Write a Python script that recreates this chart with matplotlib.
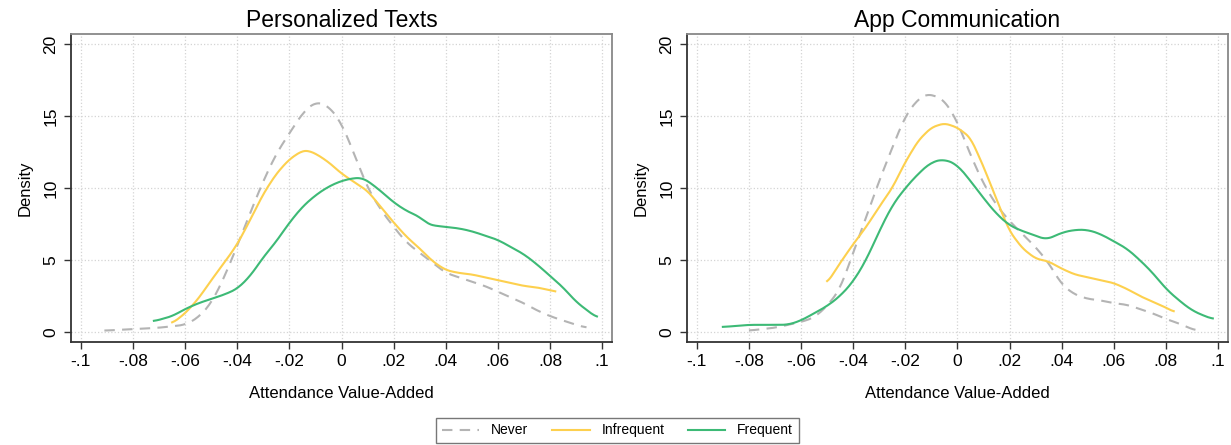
import numpy as np
import matplotlib.pyplot as plt

plt.rcParams['font.family'] = ['Liberation Sans', 'DejaVu Sans']

# kernel density curves, read as (x, density) pairs
# Personalized Texts
pt_never_x = [-.091, -.08, -.07, -.06, -.055, -.05, -.045, -.04, -.035, -.03, -.025, -.02, -.015, -.01,
              -.005, 0, .005, .01, .015, .02, .025, .03, .035, .04, .045, .05, .055, .06, .065, .07,
              .075, .08, .085, .09, .094]
pt_never_y = [0.1, 0.2, 0.3, 0.5, 1.0, 2.0, 3.8, 6.0, 8.3, 10.5, 12.4, 13.8, 15.2, 16.0,
              15.7, 14.5, 12.3, 10.0, 8.5, 7.3, 6.2, 5.5, 4.8, 4.1, 3.8, 3.5, 3.2, 2.8, 2.4, 2.0,
              1.5, 1.1, 0.8, 0.5, 0.3]
pt_infreq_x = [-.065, -.06, -.055, -.05, -.045, -.04, -.035, -.03, -.025, -.02, -.015, -.013, -.01, -.005,
               0, .005, .01, .015, .02, .025, .03, .035, .04, .045, .05, .055, .06, .065, .07, .075,
               .08, .082]
pt_infreq_y = [0.6, 1.3, 2.3, 3.6, 4.8, 6.1, 7.8, 9.6, 11.0, 12.0, 12.6, 12.6, 12.4, 11.8,
               11.0, 10.4, 9.8, 8.7, 7.6, 6.6, 5.8, 4.9, 4.3, 4.1, 4.0, 3.8, 3.6, 3.4, 3.2, 3.1,
               2.9, 2.8]
pt_freq_x = [-.072, -.065, -.06, -.055, -.05, -.045, -.04, -.035, -.03, -.025, -.02, -.015, -.01, -.005,
             0, .005, .008, .01, .015, .02, .025, .03, .033, .035, .04, .045, .05, .055, .06, .065,
             .07, .075, .08, .085, .09, .095, .098]
pt_freq_y = [0.75, 1.1, 1.6, 2.0, 2.3, 2.6, 3.0, 3.9, 5.2, 6.3, 7.6, 8.7, 9.5, 10.1,
             10.5, 10.7, 10.7, 10.5, 9.8, 9.0, 8.4, 8.0, 7.5, 7.4, 7.3, 7.2, 7.0, 6.7, 6.4, 5.9,
             5.4, 4.7, 3.9, 3.1, 2.1, 1.4, 1.0]

# App Communication
ac_never_x = [-.08, -.07, -.06, -.055, -.05, -.045, -.04, -.035, -.03, -.025, -.02, -.015, -.012, -.01,
              -.005, 0, .005, .01, .015, .02, .025, .03, .035, .04, .045, .05, .055, .06, .065, .07,
              .075, .08, .085, .09, .092]
ac_never_y = [0.1, 0.3, 0.7, 1.0, 1.8, 3.0, 5.5, 8.0, 10.5, 12.8, 15.0, 16.2, 16.5, 16.5,
              16.1, 14.6, 12.3, 10.3, 8.8, 7.7, 6.8, 5.9, 4.8, 3.3, 2.6, 2.3, 2.2, 2.0, 1.9, 1.6,
              1.3, 0.9, 0.6, 0.2, 0.1]
ac_infreq_x = [-.05, -.045, -.04, -.035, -.03, -.025, -.02, -.015, -.01, -.005, 0, .005, .01, .015,
               .02, .025, .03, .035, .04, .045, .05, .055, .06, .065, .07, .075, .08, .083]
ac_infreq_y = [3.4, 4.8, 6.1, 7.3, 8.7, 10.0, 11.8, 13.3, 14.2, 14.5, 14.2, 13.5, 11.5, 9.2,
               7.0, 5.8, 5.1, 4.9, 4.4, 4.0, 3.8, 3.6, 3.4, 3.0, 2.5, 2.1, 1.7, 1.4]
ac_freq_x = [-.09, -.08, -.07, -.065, -.06, -.055, -.05, -.045, -.04, -.035, -.03, -.025, -.02, -.015,
             -.01, -.005, 0, .005, .01, .015, .02, .025, .03, .034, .04, .045, .05, .055, .06, .065,
             .07, .075, .08, .085, .09, .095, .098]
ac_freq_y = [0.35, 0.5, 0.5, 0.5, 0.8, 1.3, 1.8, 2.5, 3.5, 5.0, 7.0, 8.8, 10.0, 11.0,
             11.8, 12.0, 11.6, 10.5, 9.3, 8.2, 7.4, 7.0, 6.7, 6.4, 6.9, 7.1, 7.1, 6.8, 6.3, 5.8,
             5.0, 4.1, 3.0, 2.2, 1.5, 1.1, 0.9]

titles = ['Personalized Texts', 'App Communication']
groups = ['Never', 'Infrequent', 'Frequent']
colors = ['#b4b4b4', '#fdd04e', '#3dba76']
xticks = [-.1, -.08, -.06, -.04, -.02, 0, .02, .04, .06, .08, .1]
xticklabels = ['-.1', '-.08', '-.06', '-.04', '-.02', '0', '.02', '.04', '.06', '.08', '.1']
yticks = [0, 5, 10, 15, 20]

panels = [
    [(pt_never_x, pt_never_y), (pt_infreq_x, pt_infreq_y), (pt_freq_x, pt_freq_y)],
    [(ac_never_x, ac_never_y), (ac_infreq_x, ac_infreq_y), (ac_freq_x, ac_freq_y)],
]


def smooth(x, y):
    xs = np.linspace(x[0], x[-1], 300)
    ys = np.interp(xs, x, y)
    k = np.ones(9) / 9
    yp = np.concatenate([np.full(4, ys[0]), ys, np.full(4, ys[-1])])
    return xs, np.convolve(yp, k, mode='valid')


fig = plt.figure(figsize=(12.31, 4.45), dpi=100)
lefts = [0.0577, 0.558]
handles = []
for i in range(2):
    ax = fig.add_axes([lefts[i], 0.2315, 0.4395, 0.692])
    for j, (x, y) in enumerate(panels[i]):
        xs, ys = smooth(x, y)
        if j == 0:
            h, = ax.plot(xs, ys, color=colors[j], lw=1.5, ls=(0, (5, 3.5)), label=groups[j])
        else:
            h, = ax.plot(xs, ys, color=colors[j], lw=1.5, label=groups[j])
        if i == 0:
            handles.append(h)
    ax.set_xlim(-0.1038, 0.1038)
    ax.set_ylim(-0.69, 20.69)
    ax.set_xticks(xticks)
    ax.set_xticklabels(xticklabels, fontsize=12.5)
    ax.set_yticks(yticks)
    ax.set_yticklabels([str(t) for t in yticks], fontsize=12.5, rotation=90, va='center')
    ax.grid(True, color='#d4d4d4', ls=':', lw=0.9)
    ax.set_axisbelow(True)
    ax.tick_params(length=5, width=1, color='#333333', pad=4)
    ax.spines['left'].set_color('#333333')
    ax.spines['bottom'].set_color('#333333')
    ax.spines['top'].set_color('#888888')
    ax.spines['right'].set_color('#888888')
    for s in ax.spines.values():
        s.set_linewidth(1.3)
    ax.set_title(titles[i], fontsize=16.5, pad=5)
    ax.set_xlabel('Attendance Value-Added', fontsize=12, labelpad=12)
    ax.set_ylabel('Density', fontsize=12, labelpad=8)

leg = fig.legend(handles=handles, loc='center', bbox_to_anchor=(0.5016, 0.0326), ncol=3,
                 fontsize=10, frameon=True, fancybox=False, edgecolor='#555555',
                 handlelength=2.7, columnspacing=1.7, handletextpad=0.85, borderpad=0.4)
leg.get_frame().set_linewidth(1.0)

fig.savefig('out.png', dpi=100)
